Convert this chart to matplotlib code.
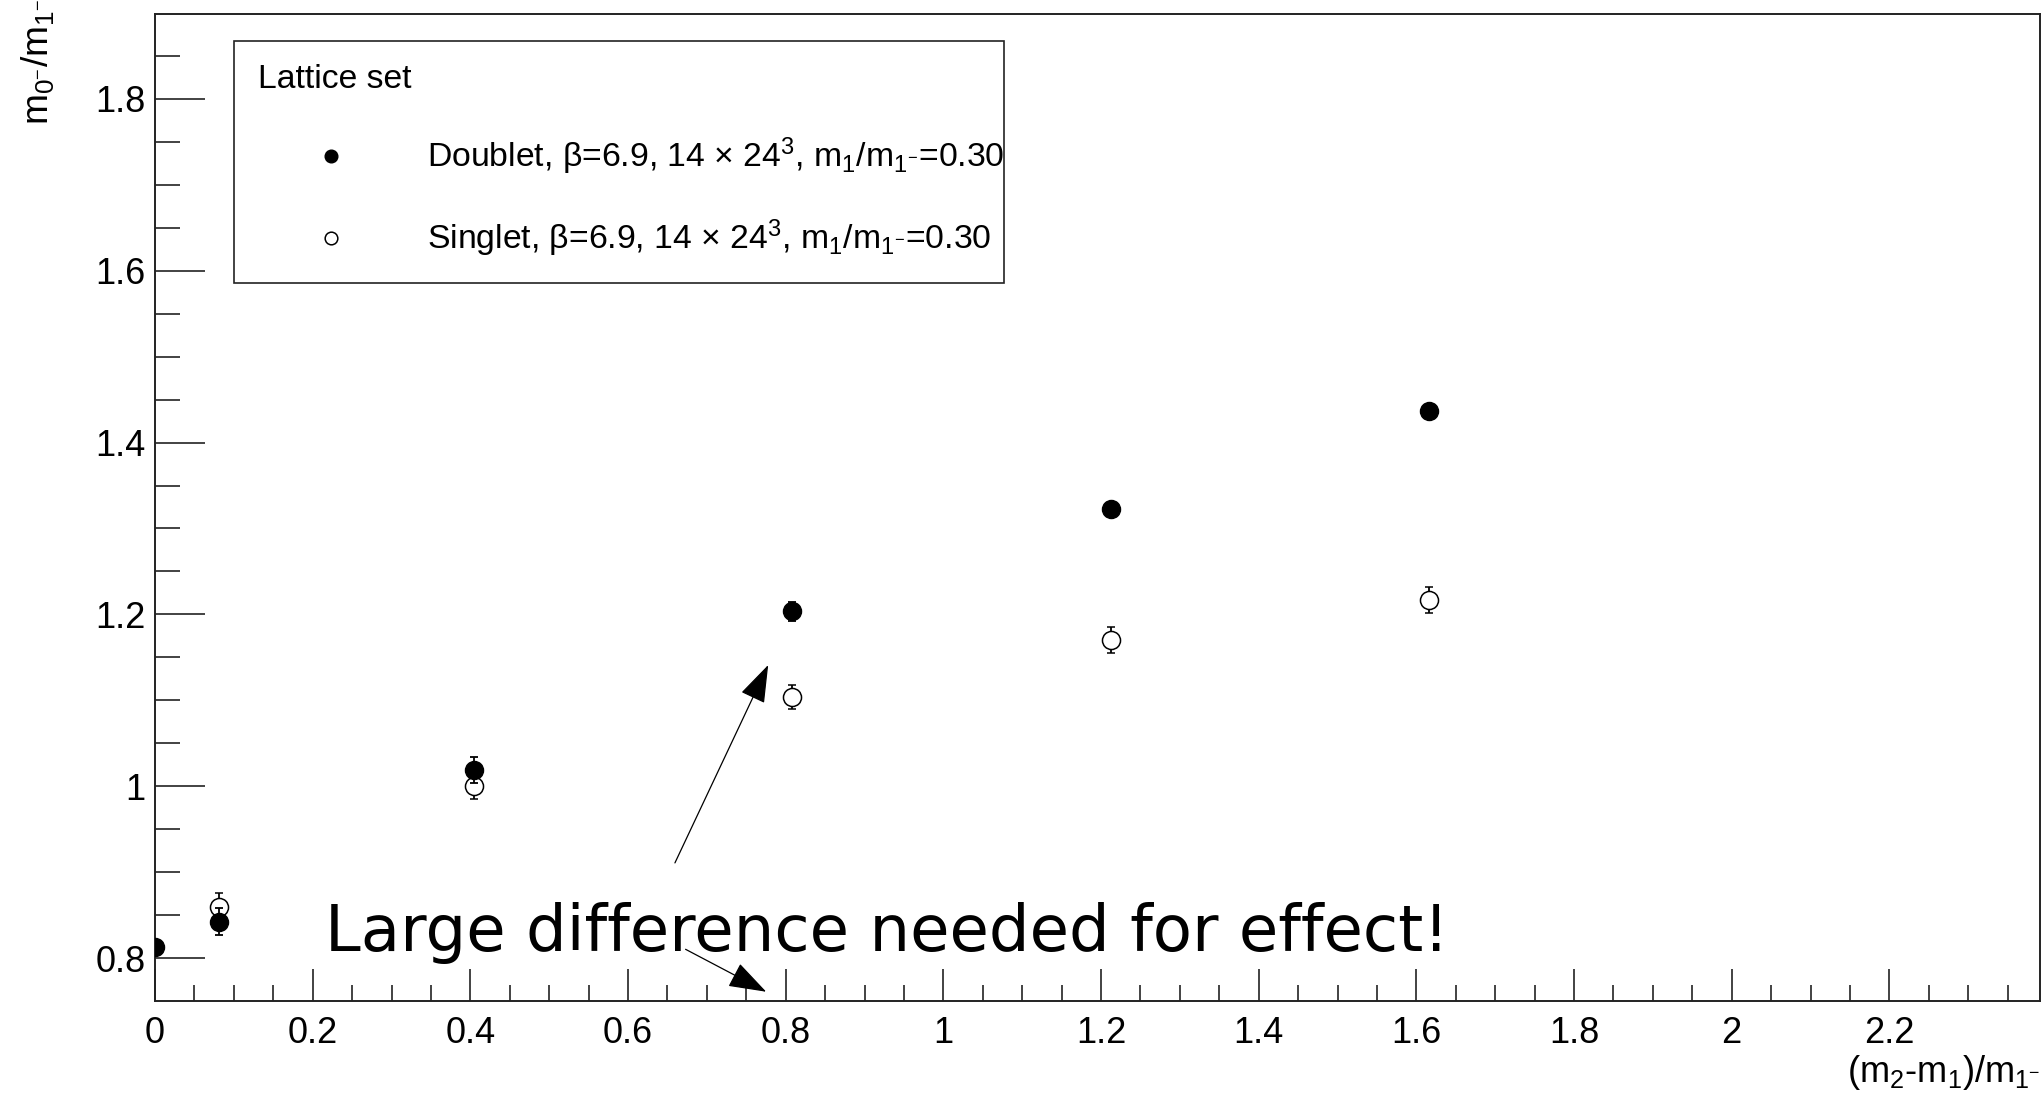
import matplotlib
matplotlib.use("Agg")
import matplotlib.pyplot as plt
from matplotlib.ticker import MultipleLocator

# --- data ---
doublet_x = [0.0, 0.0808, 0.404, 0.808, 1.212, 1.616]
doublet_y = [0.8135, 0.8426, 1.0191, 1.2036, 1.3223, 1.4370]
doublet_err = [0.006, 0.016, 0.015, 0.011, 0.008, 0.008]

singlet_x = [0.0808, 0.404, 0.808, 1.212, 1.616]
singlet_y = [0.8600, 1.0008, 1.1035, 1.1703, 1.2168]
singlet_err = [0.0155, 0.015, 0.014, 0.015, 0.015]

x_ticks = [0.0, 0.2, 0.4, 0.6, 0.8, 1.0, 1.2, 1.4, 1.6, 1.8, 2.0, 2.2]
x_tick_labels = ["0", "0.2", "0.4", "0.6", "0.8", "1", "1.2", "1.4", "1.6", "1.8", "2", "2.2"]
y_ticks = [0.8, 1.0, 1.2, 1.4, 1.6, 1.8]
y_tick_labels = ["0.8", "1", "1.2", "1.4", "1.6", "1.8"]

legend_title = "Lattice set"
legend_labels = [
    "Doublet, β=6.9, 14 × 24$^{3}$, m$_{1}$/m$_{1^{-}}$=0.30",
    "Singlet, β=6.9, 14 × 24$^{3}$, m$_{1}$/m$_{1^{-}}$=0.30",
]
note_text = "Large difference needed for effect!"
note_pos = (0.216, 0.8088)
arrow_up = ((0.6595, 0.911), (0.7778, 1.1412))   # (tail, tip)
arrow_down = ((0.673, 0.8105), (0.7753, 0.7611))

plt.rcParams["font.family"] = ["Liberation Sans", "DejaVu Sans"]
plt.rcParams["mathtext.fontset"] = "custom"
plt.rcParams["mathtext.rm"] = "Liberation Sans"
plt.rcParams["mathtext.it"] = "Liberation Sans"
plt.rcParams["mathtext.bf"] = "Liberation Sans:bold"

W, H = 2044, 1094
fig = plt.figure(figsize=(W / 100, H / 100), dpi=100)
ax = fig.add_axes([155 / W, 1 - 1000.7 / H, (2040 - 155) / W, (1000.7 - 14) / H])

eb_d = ax.errorbar(doublet_x, doublet_y, yerr=doublet_err, fmt="o", color="black",
                   ms=13, mfc="black", mec="black", elinewidth=1.3, capsize=3,
                   capthick=1.3, zorder=3)
eb_s = ax.errorbar(singlet_x, singlet_y, yerr=singlet_err, fmt="o", color="black",
                   ms=13, mfc="white", mec="black", mew=1.1, elinewidth=1.3,
                   capsize=3, capthick=1.3, zorder=2)

ax.set_xlim(0, 2.391)
ax.set_ylim(0.7507, 1.8985)

ax.set_xticks(x_ticks)
ax.set_xticklabels(x_tick_labels)
ax.set_yticks(y_ticks)
ax.set_yticklabels(y_tick_labels)
ax.xaxis.set_minor_locator(MultipleLocator(0.05))
ax.yaxis.set_minor_locator(MultipleLocator(0.05))

ax.tick_params(axis="both", which="both", direction="in", top=False, right=False,
               color="#222222", width=1.2, labelsize=26)
ax.tick_params(axis="x", which="major", length=23, pad=11)
ax.tick_params(axis="x", which="minor", length=11.5)
ax.tick_params(axis="y", which="major", length=36, pad=7)
ax.tick_params(axis="y", which="minor", length=18)
for sp in ax.spines.values():
    sp.set_linewidth(1.4)
    sp.set_color("#222222")

# legend box spans roughly x 234..1004, y 40..280 px in the figure
leg = ax.legend([eb_d[0], eb_s[0]], legend_labels, title=legend_title,
                loc="upper left", mode="expand",
                bbox_to_anchor=(234 / W, 1 - 280 / H, 770 / W, 239.3 / H),
                bbox_transform=fig.transFigure, borderaxespad=0,
                fontsize=24.3, title_fontsize=24.3, alignment="left",
                handlelength=4.35, handletextpad=0.66, borderpad=0.7,
                labelspacing=1.2, markerscale=0.7, frameon=True,
                fancybox=False, framealpha=1, edgecolor="#222222")
leg.get_frame().set_linewidth(1.2)

ax.text(note_pos[0], note_pos[1], note_text, fontsize=46.3, family="DejaVu Sans",
        va="baseline", ha="left", zorder=5)
for tail, tip in (arrow_up, arrow_down):
    ax.annotate("", xy=tip, xytext=tail,
                arrowprops=dict(arrowstyle="-|>,head_length=1.6,head_width=0.55",
                                mutation_scale=15, color="black", lw=0.9,
                                shrinkA=0, shrinkB=0))

fig.text(2040 / W, 1 - 1082 / H, "(m$_{2}$-m$_{1}$)/m$_{1^{-}}$", fontsize=26,
         ha="right", va="baseline")
fig.text(37 / W, 1 + 1 / H, "m$_{0^{-}}$/m$_{1^{-}}$", fontsize=26.7, rotation=90,
         ha="center", va="top")

fig.savefig("out.png", dpi=100)
